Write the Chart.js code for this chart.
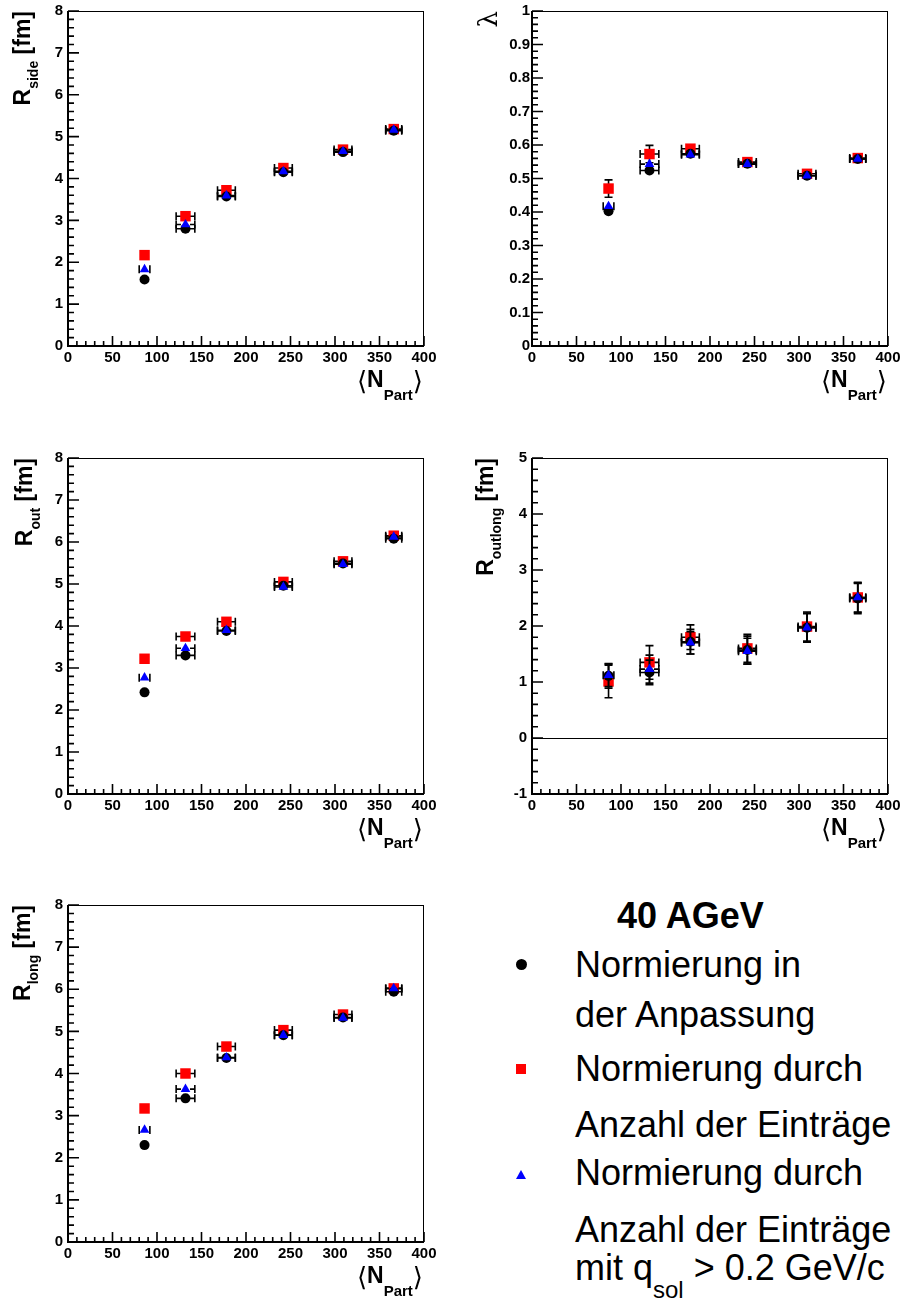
<!DOCTYPE html>
<html>
<head>
<meta charset="utf-8">
<script src="https://cdn.jsdelivr.net/npm/chart.js@4.4.1/dist/chart.umd.min.js"></script>
<style>
  html, body { margin: 0; padding: 0; background: #fff; }
  #page { position: relative; width: 902px; height: 1304px; overflow: hidden;
          font-family: "Liberation Sans", Arial, Helvetica, sans-serif; color: #000; }
  canvas { position: absolute; }
  .leg { position: absolute; left: 575px; font-size: 36px; line-height: 36px; white-space: nowrap; }
  .leg sub { font-size: 24px; line-height: 1; vertical-align: baseline; position: relative; top: 18px; }
  .mk { position: absolute; }
</style>
</head>
<body>
<div id="page">
  <canvas id="cSide" width="451" height="435" style="left:0;top:0"></canvas>
  <canvas id="cLambda" width="451" height="435" style="left:451px;top:0"></canvas>
  <canvas id="cOut" width="451" height="435" style="left:0;top:435px"></canvas>
  <canvas id="cOutlong" width="451" height="435" style="left:451px;top:435px"></canvas>
  <canvas id="cLong" width="451" height="434" style="left:0;top:870px"></canvas>

  <!-- legend -->
  <div class="leg" style="left:617px;top:897.5px;font-weight:bold">40 AGeV</div>
  <div class="mk" style="left:516px;top:959px;width:11px;height:11px;border-radius:50%;background:#000"></div>
  <div class="leg" style="top:946.5px">Normierung in</div>
  <div class="leg" style="top:996.5px">der Anpassung</div>
  <div class="mk" style="left:516px;top:1064px;width:10px;height:10px;background:#f00"></div>
  <div class="leg" style="top:1050.5px">Normierung durch</div>
  <div class="leg" style="top:1106.5px">Anzahl der Einträge</div>
  <div class="mk" style="left:516px;top:1170px;width:0;height:0;border-left:5px solid transparent;border-right:5px solid transparent;border-bottom:9px solid #00f"></div>
  <div class="leg" style="top:1154.5px">Normierung durch</div>
  <div class="leg" style="top:1211.5px">Anzahl der Einträge</div>
  <div class="leg" style="top:1249.5px">mit q<sub>sol</sub> &gt; 0.2 GeV/c</div>
</div>

<script>
const FONT = "'Liberation Sans', Arial, Helvetica, sans-serif";

/* ── data ───────────────────────────────────────────── */
const npart = [86, 132, 178, 242, 309, 366];
const npartErr = [3, 10.5, 10, 10, 10, 9];      // circles & squares
const npartErrTri = [6, 10.5, 10, 10, 10, 9];   // triangles

const rsideFit  = [1.59, 2.80, 3.57, 4.15, 4.63, 5.14];
const rsideNorm = [2.17, 3.10, 3.72, 4.25, 4.69, 5.18];
const rsideCut  = [1.83, 2.90, 3.59, 4.17, 4.65, 5.16];
const rsideErr  = [0.08, 0.10, 0.08, 0.07, 0.06, 0.06];

const lambdaFit  = [0.402, 0.524, 0.574, 0.544, 0.508, 0.558];
const lambdaNorm = [0.470, 0.573, 0.589, 0.549, 0.514, 0.561];
const lambdaCut  = [0.417, 0.543, 0.571, 0.543, 0.508, 0.558];
const lambdaErr  = [0.012, 0.012, 0.010, 0.008, 0.008, 0.008];
const lambdaNormErr = [0.026, 0.026, 0.012, 0.010, 0.010, 0.010];

const routFit  = [2.42, 3.30, 3.88, 4.96, 5.49, 6.08];
const routNorm = [3.22, 3.75, 4.10, 5.05, 5.54, 6.15];
const routCut  = [2.77, 3.47, 3.90, 4.93, 5.47, 6.12];
const routErr  = [0.10, 0.10, 0.08, 0.07, 0.06, 0.06];

const routlongFit  = [1.11, 1.17, 1.72, 1.57, 1.97, 2.49];
const routlongNorm = [1.01, 1.35, 1.80, 1.60, 1.99, 2.51];
const routlongCut  = [1.12, 1.23, 1.70, 1.55, 1.97, 2.51];
const routlongFitErr  = [0.22, 0.22, 0.22, 0.25, 0.26, 0.27];
const routlongNormErr = [0.29, 0.30, 0.22, 0.25, 0.26, 0.27];
const routlongCutErr  = [0.20, 0.25, 0.20, 0.23, 0.25, 0.26];

const rlongFit  = [2.30, 3.41, 4.37, 4.91, 5.33, 5.94];
const rlongNorm = [3.17, 4.00, 4.64, 5.03, 5.40, 6.02];
const rlongCut  = [2.66, 3.63, 4.38, 4.91, 5.32, 6.02];
const rlongErr  = [0.10, 0.10, 0.08, 0.07, 0.06, 0.06];

/* ── helpers ────────────────────────────────────────── */
// draw a run of text pieces (with sub-scripts), right aligned at (0,0)
function drawRun(ctx, parts) {
    let total = 0;
    parts.forEach(p => { ctx.font = p.font; p.w = ctx.measureText(p.t).width; total += p.w; });
    let u = -total;
    parts.forEach(p => {
        ctx.font = p.font;
        ctx.fillText(p.t, u, p.dy || 0);
        u += p.w;
    });
}

function drawErrors(chart, di) {
    const ds = chart.data.datasets[di];
    const xs = chart.scales.x, ys = chart.scales.y;
    const ctx = chart.ctx;
    const s = 4.5, cap = 4;
    ctx.save();
    ctx.strokeStyle = "#000";
    ctx.lineWidth = 1.6;
    ctx.beginPath();
    ds.data.forEach(p => {
        const cx = xs.getPixelForValue(p.x), cy = ys.getPixelForValue(p.y);
        const ex = xs.getPixelForValue(p.x + p.xe) - cx;
        const ey = cy - ys.getPixelForValue(p.y + p.ye);
        if (ex > s) {
            ctx.moveTo(cx - ex, cy); ctx.lineTo(cx - s, cy);
            ctx.moveTo(cx + s, cy); ctx.lineTo(cx + ex, cy);
            ctx.moveTo(cx - ex, cy - cap); ctx.lineTo(cx - ex, cy + cap);
            ctx.moveTo(cx + ex, cy - cap); ctx.lineTo(cx + ex, cy + cap);
        }
        if (ey > s) {
            ctx.moveTo(cx, cy - ey); ctx.lineTo(cx, cy - s);
            ctx.moveTo(cx, cy + s); ctx.lineTo(cx, cy + ey);
            ctx.moveTo(cx - cap, cy - ey); ctx.lineTo(cx + cap, cy - ey);
            ctx.moveTo(cx - cap, cy + ey); ctx.lineTo(cx + cap, cy + ey);
        }
    });
    ctx.stroke();
    ctx.restore();
}

const rootStyle = {
    id: "rootStyle",
    beforeDatasetsDraw(chart) {
        const o = chart.options.plugins.rootStyle;
        if (!o.zeroLine) return;
        const { left, right } = chart.chartArea;
        const y0 = Math.round(chart.scales.y.getPixelForValue(0)) + 0.5;
        const ctx = chart.ctx;
        ctx.save();
        ctx.strokeStyle = "#000"; ctx.lineWidth = 1;
        ctx.beginPath(); ctx.moveTo(left, y0); ctx.lineTo(right, y0); ctx.stroke();
        ctx.restore();
    },
    beforeDatasetDraw(chart, args) {
        drawErrors(chart, args.index);
    },
    afterDraw(chart) {
        const o = chart.options.plugins.rootStyle;
        const ctx = chart.ctx;
        const { left, right, top, bottom } = chart.chartArea;
        const xs = chart.scales.x, ys = chart.scales.y;
        ctx.save();
        ctx.strokeStyle = "#000";
        // frame
        ctx.lineWidth = 1;
        ctx.beginPath();
        ctx.moveTo(left, top + 0.5); ctx.lineTo(right, top + 0.5);
        ctx.moveTo(right - 0.5, top); ctx.lineTo(right - 0.5, bottom);
        ctx.stroke();
        ctx.lineWidth = 2;
        ctx.beginPath();
        ctx.moveTo(left, top); ctx.lineTo(left, bottom);
        ctx.moveTo(left - 1, bottom); ctx.lineTo(right, bottom);
        ctx.stroke();
        // ticks (inside)
        ctx.lineWidth = 1.6;
        ctx.beginPath();
        const nx = Math.round((xs.max - xs.min) / 10);
        for (let k = 0; k <= nx; k++) {
            const px = xs.getPixelForValue(xs.min + k * 10);
            const len = k % 5 === 0 ? 10 : 5;
            ctx.moveTo(px, bottom); ctx.lineTo(px, bottom - len);
        }
        const minor = o.yStep / 5;
        const ny = Math.round((ys.max - ys.min) / minor);
        for (let k = 0; k <= ny; k++) {
            const py = ys.getPixelForValue(ys.min + k * minor);
            const len = k % 5 === 0 ? 11 : 6;
            ctx.moveTo(left, py); ctx.lineTo(left + len, py);
        }
        ctx.stroke();

        ctx.fillStyle = "#000";
        ctx.textBaseline = "alphabetic";
        // x title  <N_Part>
        ctx.save();
        ctx.translate(right - 1, bottom + 41);
        drawRun(ctx, [
            { t: "\u27E8", font: "26px 'DejaVu Sans'", dy: 3 },
            { t: "N", font: "bold 23px " + FONT },
            { t: "Part", font: "bold 15px " + FONT, dy: 13 },
            { t: "\u27E9", font: "26px 'DejaVu Sans'", dy: 3 },
        ]);
        ctx.restore();
        // y title (rotated, right aligned at top of frame)
        ctx.save();
        ctx.translate(o.titleX, top);
        ctx.rotate(-Math.PI / 2);
        drawRun(ctx, o.yTitle);
        ctx.restore();
        ctx.restore();
    }
};

function makePanel(id, o) {
    const pts = (vals, errs, xe) => npart.map((x, i) => ({ x, y: vals[i], xe: xe[i], ye: errs[i] }));
    const tickFont = { family: FONT, size: 15, weight: "bold" };
    return new Chart(document.getElementById(id), {
        type: "scatter",
        data: {
            datasets: [
                { label: "Normierung durch Anzahl der Einträge mit q_sol > 0.2 GeV/c", data: pts(o.cut, o.cutErr, npartErrTri),
                  pointStyle: "triangle", pointRadius: 5.6, backgroundColor: "#0000ff", borderWidth: 0 },
                { label: "Normierung in der Anpassung", data: pts(o.fit, o.fitErr, npartErr),
                  pointStyle: "circle", pointRadius: 5, backgroundColor: "#000000", borderWidth: 0 },
                { label: "Normierung durch Anzahl der Einträge", data: pts(o.norm, o.normErr, npartErr),
                  pointStyle: "rect", pointRadius: 7.4, backgroundColor: "#ff0000", borderWidth: 0 },
            ],
        },
        options: {
            responsive: false,
            animation: false,
            events: [],
            layout: { padding: { left: 0, right: o.pr, top: o.pt, bottom: 0 }, autoPadding: false },
            plugins: {
                legend: { display: false },
                tooltip: { enabled: false },
                rootStyle: o,
            },
            scales: {
                x: {
                    type: "linear", min: 0, max: 400,
                    afterFit: s => { s.height = o.xh; s.paddingLeft = 0; s.paddingRight = 0; },
                    ticks: { stepSize: 50, autoSkip: false, maxRotation: 0, padding: 3, color: "#000", font: tickFont },
                    grid: { display: false, drawTicks: false },
                    border: { display: false },
                },
                y: {
                    type: "linear", min: o.min, max: o.max,
                    afterFit: s => { s.width = o.yw; s.paddingTop = 0; s.paddingBottom = 0; },
                    ticks: {
                        stepSize: o.yStep, autoSkip: false, padding: o.ypad, color: "#000", font: tickFont,
                        callback: v => String(Math.round(v * 10) / 10),
                    },
                    grid: { display: false, drawTicks: false },
                    border: { display: false },
                },
            },
        },
        plugins: [rootStyle],
    });
}

const titleR = sub => [
    { t: "R", font: "bold 23px " + FONT },
    { t: sub, font: "bold 14px " + FONT, dy: 8 },
    { t: " [fm]", font: "bold 23px " + FONT },
];

makePanel("cSide", {
    fit: rsideFit, norm: rsideNorm, cut: rsideCut, fitErr: rsideErr, normErr: rsideErr, cutErr: rsideErr,
    min: 0, max: 8, yStep: 1, yw: 68, pr: 27, pt: 11, xh: 89, ypad: 5,
    titleX: 30, yTitle: titleR("side"),
});
makePanel("cLambda", {
    fit: lambdaFit, norm: lambdaNorm, cut: lambdaCut, fitErr: lambdaErr, normErr: lambdaNormErr, cutErr: lambdaErr,
    min: 0, max: 1, yStep: 0.1, yw: 81, pr: 14, pt: 11, xh: 89, ypad: 2,
    titleX: 46, yTitle: [{ t: "\u03BB", font: "26px 'DejaVu Serif'" }],
});
makePanel("cOut", {
    fit: routFit, norm: routNorm, cut: routCut, fitErr: routErr, normErr: routErr, cutErr: routErr,
    min: 0, max: 8, yStep: 1, yw: 68, pr: 27, pt: 23, xh: 76, ypad: 5,
    titleX: 32, yTitle: titleR("out"),
});
makePanel("cOutlong", {
    fit: routlongFit, norm: routlongNorm, cut: routlongCut,
    fitErr: routlongFitErr, normErr: routlongNormErr, cutErr: routlongCutErr,
    min: -1, max: 5, yStep: 1, yw: 81, pr: 14, pt: 23, xh: 76, ypad: 5, zeroLine: true,
    titleX: 42, yTitle: titleR("outlong"),
});
makePanel("cLong", {
    fit: rlongFit, norm: rlongNorm, cut: rlongCut, fitErr: rlongErr, normErr: rlongErr, cutErr: rlongErr,
    min: 0, max: 8, yStep: 1, yw: 68, pr: 27, pt: 35, xh: 62, ypad: 5,
    titleX: 30, yTitle: titleR("long"),
});
</script>
</body>
</html>
